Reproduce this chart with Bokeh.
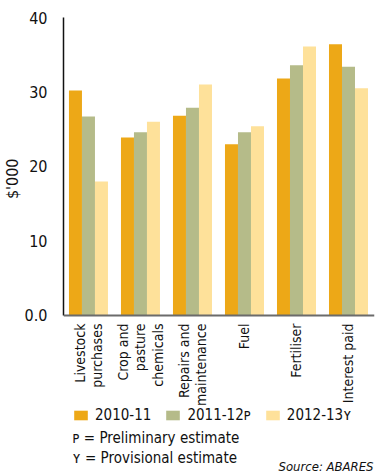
from math import pi
from bokeh.plotting import figure
from bokeh.models import FixedTicker, Range1d, Legend, LegendItem, Label, Span, Title
from bokeh.embed import file_html
from bokeh.resources import INLINE

categories = ["Livestock\npurchases", "Crop and\npasture\nchemicals", "Repairs and\nmaintenance",
              "Fuel", "Fertiliser", "Interest paid"]
series_names = ["2010-11", "2011-12\u1d18", "2012-13\u028f"]
v_2010_11 = [30.2, 23.9, 26.8, 23.0, 31.8, 36.4]
v_2011_12 = [26.7, 24.6, 27.9, 24.6, 33.6, 33.4]
v_2012_13 = [18.0, 26.0, 31.0, 25.4, 36.1, 30.5]
y_ticks = [0, 10, 20, 30, 40]
y_tick_labels = ["0.0", "10", "20", "30", "40"]
y_title = "$'000"
notes = ["\u1d18 = Preliminary estimate", "\u028f = Provisional estimate"]
source = "Source: ABARES"
colors = ["#EDA817", "#B5BB89", "#FEE19A"]

FONT = "DejaVu Sans Condensed, Roboto"
INK = "#111111"

# frame extends to the bottom of the page so that the notes below the bars are drawn inside it
p = figure(width=377, height=475, frame_width=311, frame_height=458,
           output_backend="svg", toolbar_location=None,
           x_range=Range1d(-0.48, 5.50), y_range=Range1d(-21.48, 40),
           min_border_left=0, min_border_right=2, min_border_top=17, min_border_bottom=0)
p.outline_line_color = None
p.grid.grid_line_color = None

xs = list(range(len(categories)))
offsets = [-0.25, 0.0, 0.25]
renderers = []
for vals, off, c in zip([v_2010_11, v_2011_12, v_2012_13], offsets, colors):
    r = p.vbar(x=[x + off for x in xs], top=vals, width=0.25, fill_color=c, line_color=None)
    renderers.append(r)

# x axis line at zero
p.xaxis.visible = False
p.add_layout(Span(location=0, dimension="width", line_color="#6b6b6b", line_width=2))

LINE_GAP = 17.5
for i, cat in enumerate(categories):
    lines = cat.split("\n")
    n = len(lines)
    for k, ln in enumerate(lines):
        p.add_layout(Label(x=i, y=152, x_units="data", y_units="screen",
                           x_offset=(k - (n - 1) / 2) * LINE_GAP, text=ln, angle=pi / 2,
                           text_align="right", text_baseline="middle",
                           text_font=FONT, text_font_size="14px", text_color=INK))

p.yaxis.bounds = (0, 40)
p.yaxis.ticker = FixedTicker(ticks=y_ticks)
p.yaxis.major_label_overrides = {t: l for t, l in zip(y_ticks, y_tick_labels)}
p.yaxis.major_tick_line_color = None
p.yaxis.minor_tick_line_color = None
p.yaxis.axis_line_color = INK
p.yaxis.axis_line_width = 1.5
p.yaxis.major_label_text_font = FONT
p.yaxis.major_label_text_font_size = "16px"
p.yaxis.major_label_text_color = INK
p.yaxis.major_label_standoff = 10

p.add_layout(Title(text=y_title, align="right", offset=141, standoff=0,
                   text_font=FONT, text_font_size="16px", text_font_style="normal",
                   text_color=INK), "left")

legend = Legend(items=[LegendItem(label=n, renderers=[r]) for n, r in zip(series_names, renderers)],
                location=(9, 51), orientation="horizontal",
                label_text_font=FONT, label_text_font_size="15px", label_text_color=INK,
                glyph_width=17, glyph_height=12, spacing=13, padding=0, margin=0,
                label_standoff=6, border_line_color=None, background_fill_alpha=0)
p.add_layout(legend, "center")

for j, note in enumerate(notes):
    p.add_layout(Label(x=9, y=38 - 20 * j, x_units="screen", y_units="screen", text=note,
                       text_baseline="middle", text_font=FONT, text_font_size="15px", text_color=INK))
p.add_layout(Label(x=310, y=9, x_units="screen", y_units="screen", text=source,
                   text_align="right", text_baseline="middle", text_font=FONT, text_font_size="13px",
                   text_font_style="italic", text_color=INK))

open("out.html", "w").write(file_html(p, INLINE))
